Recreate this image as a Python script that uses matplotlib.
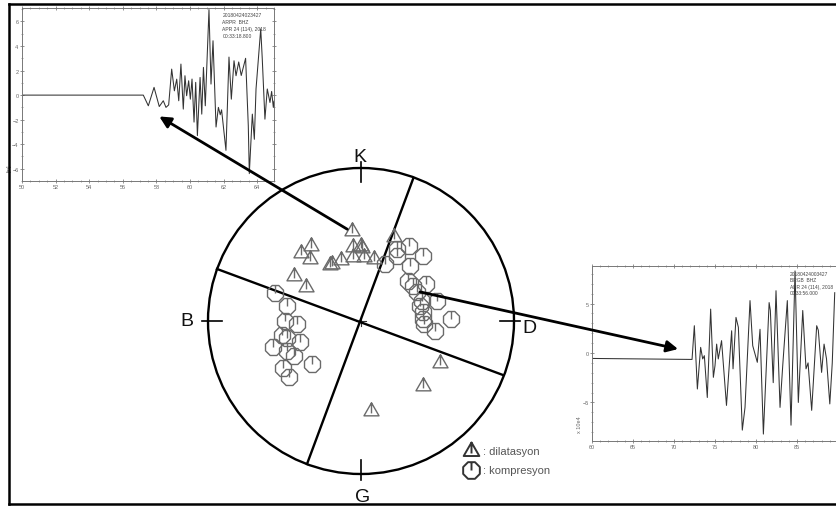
import numpy as np
import matplotlib
matplotlib.use('Agg')
import matplotlib.pyplot as plt
from matplotlib.path import Path
from matplotlib.patches import ConnectionPatch, Circle
from matplotlib.lines import Line2D
from matplotlib.ticker import MultipleLocator, FixedLocator

plt.rcParams['font.family'] = ['Liberation Sans', 'DejaVu Sans']

# ---------------- data ----------------
# dilatation stations (unit-circle projection coords)
dil_x = [-0.059, -0.327, -0.394, -0.333, -0.054, -0.002, 0.007, -0.052, 0.020, 0.088,
         -0.133, -0.203, -0.190, -0.435, -0.362, 0.216, 0.516, 0.405, 0.065]
dil_y = [0.588, 0.492, 0.444, 0.405, 0.484, 0.492, 0.477, 0.418, 0.418, 0.408,
         0.399, 0.368, 0.373, 0.297, 0.219, 0.546, -0.275, -0.423, -0.587]
# compression stations
comp_x = [0.157, 0.233, 0.235, 0.316, 0.403, 0.320, 0.309, 0.340, 0.425, 0.364, 0.495,
          0.397, 0.386, 0.407, 0.403, 0.412, 0.484, 0.586,
          -0.562, -0.482, -0.497, -0.420, -0.518, -0.484, -0.399, -0.573, -0.486,
          -0.438, -0.317, -0.508, -0.469]
comp_y = [0.370, 0.468, 0.425, 0.492, 0.423, 0.362, 0.264, 0.231, 0.242, 0.188, 0.133,
          0.133, 0.100, 0.057, 0.013, -0.020, -0.063, 0.013,
          0.183, 0.100, 0.000, -0.020, -0.092, -0.114, -0.135, -0.172, -0.194,
          -0.231, -0.281, -0.304, -0.369]
# nodal plane traces (end points on the primitive circle)
plane1_x = [0.340, -0.353]
plane1_y = [0.928, -0.935]
plane2_x = [-0.941, 0.928]
plane2_y = [0.340, -0.353]
dir_labels = ['K', 'B', 'D', 'G']
legend_labels = [': dilatasyon', ': kompresyon']

# seismogram 1 (ARPR)
t1 = [50.0, 57.22, 57.52, 57.86, 58.17, 58.41, 58.57, 58.73, 58.91, 59.07, 59.21, 59.33,
      59.46, 59.60, 59.70, 59.80, 59.92, 60.02, 60.12, 60.24, 60.34, 60.44, 60.60, 60.70,
      60.80, 60.91, 61.13, 61.25, 61.37, 61.55, 61.69, 61.80, 61.88, 62.14, 62.32, 62.46,
      62.62, 62.74, 62.90, 63.05, 63.31, 63.47, 63.53, 63.71, 63.83, 63.93, 64.21, 64.30,
      64.46, 64.60, 64.76, 64.86, 64.96, 65.0]
a1 = [0.0, 0.0, -0.87, 0.63, -0.93, -0.46, -1.0, -0.8, 2.12, 0.35, 1.3, -0.46,
      2.53, -1.14, 1.58, -0.05, 1.17, -0.33, 1.31, -2.2, 1.04, -3.3, 1.44, -1.55,
      2.26, -0.87, 6.97, 0.9, 4.43, -2.6, -1.0, -1.6, -1.2, -4.5, 3.1, -0.33,
      2.8, 1.58, 2.7, 1.6, 3.0, -2.5, -6.4, -1.55, -3.6, 0.5, 5.4, 3.0,
      -1.96, 0.5, -0.6, 0.3, -1.0, -0.5]
# seismogram 2 (BRGB)
t2 = [60.0, 72.20, 72.48, 72.85, 73.25, 73.50, 73.70, 74.06, 74.47, 74.80, 75.00, 75.20,
      75.40, 75.80, 76.40, 77.03, 77.20, 77.56, 77.85, 78.33, 78.66, 79.27, 79.60, 80.16,
      80.49, 80.90, 81.60, 81.75, 82.10, 82.44, 82.93, 83.26, 83.82, 84.27, 84.76, 85.16,
      85.70, 86.10, 86.35, 86.79, 87.40, 87.60, 88.00, 88.30, 88.60, 89.00, 89.30, 89.60]
a2 = [-0.55, -0.65, 2.76, -3.64, 0.57, -0.6, -0.27, -4.5, 4.44, -2.46, -1.28, 0.9,
      -0.6, 1.25, -5.3, 2.25, -1.6, 3.6, 2.6, -7.8, -5.5, 5.3, 0.74, -0.94,
      2.4, -8.2, 5.1, 4.3, -3.0, 6.3, -5.5, -1.28, 5.3, -7.3, 8.3, -5.0,
      4.3, -1.6, -1.0, -5.8, 2.76, 2.3, -1.96, 0.9, -0.6, -5.15, -1.0, 6.1]
xticks2 = [60, 65, 70, 75, 80, 85]
header1 = ['20180424023427', 'ARPR  BHZ', 'APR 24 (114), 2018', '00:33:18.800']
header2 = ['20180424003427', 'BRGB  BHZ', 'APR 24 (114), 2018', '00:33:56.000']

# ---------------- figure ----------------
W, H = 836, 510
fig = plt.figure(figsize=(W / 100, H / 100), dpi=100)


def fbox(l, t, r, b):
    return [l / W, 1 - b / H, (r - l) / W, (b - t) / H]


def style_inset(a):
    for s in a.spines.values():
        s.set_color('#777777')
        s.set_linewidth(0.7)
    a.tick_params(which='both', direction='inout', top=True, right=True,
                  labelsize=4, colors='#666666', pad=1)
    a.tick_params(which='major', length=3, width=0.5)
    a.tick_params(which='minor', length=1.6, width=0.4)


# inset 1
ax1 = fig.add_axes(fbox(22, 9, 274, 182))
ax1.plot(t1, a1, color='#333333', lw=0.75)
ax1.set_xlim(50, 65)
ax1.set_ylim(-7.0, 7.1)
ax1.xaxis.set_major_locator(MultipleLocator(2))
ax1.xaxis.set_minor_locator(MultipleLocator(0.5))
ax1.yaxis.set_major_locator(MultipleLocator(2))
ax1.yaxis.set_minor_locator(MultipleLocator(1))
style_inset(ax1)
ax1.set_ylabel('[m]', fontsize=4, color='#666666', labelpad=1)
ax1.yaxis.set_label_coords(-0.04, 0.08)
for i, line in enumerate(header1):
    ax1.text(0.795, 0.975 - i * 0.04, line, transform=ax1.transAxes, fontsize=3.6,
             color='#444444', va='top', ha='left')

# inset 2
ax2 = fig.add_axes(fbox(592, 267, 838, 442))
ax2.plot(t2, a2, color='#333333', lw=0.75)
ax2.set_xlim(60, 90)
ax2.set_ylim(-8.9, 8.8)
ax2.xaxis.set_major_locator(FixedLocator(xticks2))
ax2.xaxis.set_minor_locator(MultipleLocator(1))
ax2.yaxis.set_major_locator(MultipleLocator(5))
ax2.yaxis.set_minor_locator(MultipleLocator(1))
style_inset(ax2)
ax2.set_ylabel('x 10e4', fontsize=4, color='#666666', labelpad=1)
ax2.yaxis.set_label_coords(-0.04, 0.1)
for i, line in enumerate(header2):
    ax2.text(0.805, 0.97 - i * 0.035, line, transform=ax2.transAxes, fontsize=3.5,
             color='#444444', va='top', ha='left')

# stereonet
cx, cy, R, ext = 361, 322, 153, 1.35
ax = fig.add_axes(fbox(cx - ext * R, cy - ext * R, cx + ext * R, cy + ext * R))
ax.set_xlim(-ext, ext)
ax.set_ylim(-ext, ext)
ax.axis('off')
ax.add_patch(Circle((0, 0), 1.0, fill=False, lw=1.7, color='black', zorder=3))
ax.plot(plane1_x, plane1_y, color='black', lw=1.7, zorder=3)
ax.plot(plane2_x, plane2_y, color='black', lw=1.7, zorder=3)
for ang in [90, 180, 0, 270]:
    c, s = np.cos(np.deg2rad(ang)), np.sin(np.deg2rad(ang))
    ax.plot([0.91 * c, 1.04 * c], [0.91 * s, 1.04 * s], color='black', lw=1.2, zorder=3)
ax.plot([-0.035, 0.035], [0, 0], color='#333333', lw=0.8)
ax.plot([0, 0], [-0.035, 0.035], color='#333333', lw=0.8)

lab_pos = [(-0.007, 1.075), (-1.137, 0.0), (1.10, -0.04), (0.013, -1.15)]
for lab, (x, y) in zip(dir_labels, lab_pos):
    ax.text(x, y, lab, fontsize=14, ha='center', va='center', color='#111111')

# custom markers
ang = np.deg2rad(22.5 + 45 * np.arange(8))
ov = [(np.cos(a), np.sin(a)) for a in ang]
oct_verts = ov + [ov[0], (0, np.sin(np.deg2rad(67.5))), (0, 0)]
oct_codes = [Path.MOVETO] + [Path.LINETO] * 7 + [Path.CLOSEPOLY, Path.MOVETO, Path.LINETO]
oct_marker = Path(oct_verts, oct_codes)
tri_verts = [(0, 1), (-0.866, -0.5), (0.866, -0.5), (0, 1), (0, 1), (0, -0.22)]
tri_codes = [Path.MOVETO, Path.LINETO, Path.LINETO, Path.CLOSEPOLY, Path.MOVETO, Path.LINETO]
tri_marker = Path(tri_verts, tri_codes)

ax.plot(comp_x, comp_y, ls='none', marker=oct_marker, ms=11.5, mfc='none',
        mec='#6a6a6a', mew=1.0, zorder=4)
ax.plot(dil_x, dil_y, ls='none', marker=tri_marker, ms=12.5, mfc='none',
        mec='#6a6a6a', mew=1.0, zorder=4)

# legend
ax.plot([0.72], [-0.85], ls='none', marker=tri_marker, ms=13, mfc='none', mec='#333333', mew=1.4)
ax.plot([0.72], [-0.975], ls='none', marker=oct_marker, ms=12, mfc='none', mec='#333333', mew=1.4)
ax.text(0.80, -0.85, legend_labels[0], fontsize=8, color='#555555', va='center', ha='left')
ax.text(0.80, -0.975, legend_labels[1], fontsize=8, color='#555555', va='center', ha='left')

# arrows from stations to seismograms
arr1 = ConnectionPatch(xyA=(-0.09, 0.60), coordsA=ax.transData,
                       xyB=(58.17, -1.74), coordsB=ax1.transData,
                       arrowstyle='-|>', mutation_scale=17, lw=2.0, color='black', zorder=10)
fig.add_artist(arr1)
arr2 = ConnectionPatch(xyA=(0.386, 0.19), coordsA=ax.transData,
                       xyB=(70.5, 0.4), coordsB=ax2.transData,
                       arrowstyle='-|>', mutation_scale=17, lw=2.0, color='black', zorder=10)
fig.add_artist(arr2)

# outer frame
fig.add_artist(Line2D([9 / W, 9 / W], [1 - 5 / H, 5 / H], transform=fig.transFigure,
                      color='black', lw=1.8))
fig.add_artist(Line2D([9 / W, 1], [1 - 5 / H, 1 - 5 / H], transform=fig.transFigure,
                      color='black', lw=1.8))
fig.add_artist(Line2D([9 / W, 1], [5 / H, 5 / H], transform=fig.transFigure,
                      color='black', lw=1.8))

fig.savefig('out.png', dpi=100)
